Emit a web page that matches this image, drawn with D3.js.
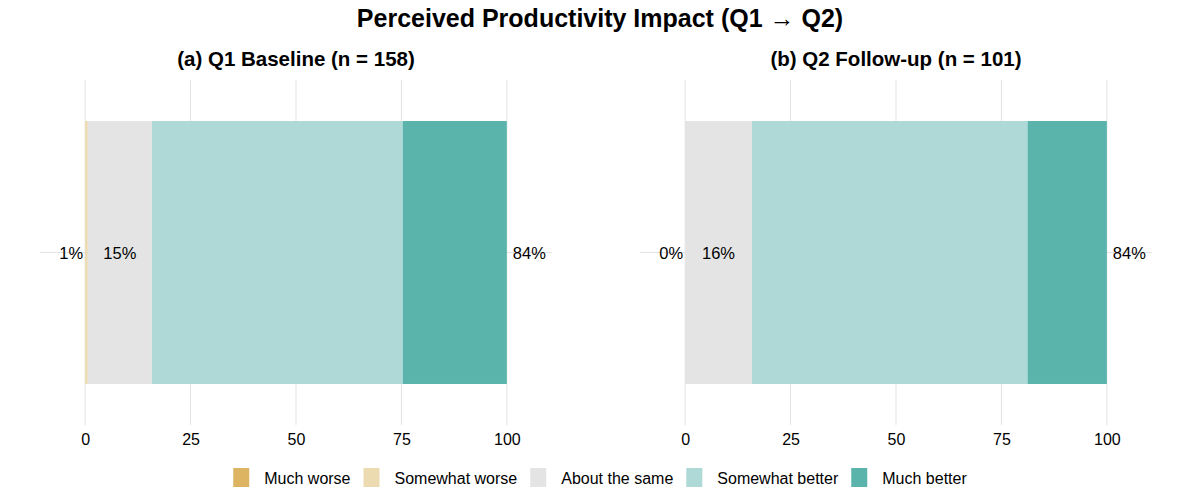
<!DOCTYPE html>
<html>
<head>
<meta charset="utf-8">
<script src="https://cdn.jsdelivr.net/npm/d3@7"></script>
<style>
  body { margin: 0; background: #fff; }
  text { font-family: "Liberation Sans", Arial, Helvetica, sans-serif; fill: #000; }
</style>
</head>
<body>
<div id="chart"></div>
<script>
// response levels, in stacking order
const levels = ['Much worse', 'Somewhat worse', 'About the same', 'Somewhat better', 'Much better'];
const colors = ['#dcb462', '#ecdbb0', '#e4e4e4', '#aed9d6', '#5ab4ac'];

const panels = ['(a) Q1 Baseline (n = 158)', '(b) Q2 Follow-up (n = 101)'];
// percent of respondents per level
const q1Pct = [0, 0.63, 15.19, 59.49, 24.68];
const q2Pct = [0, 0, 15.84, 65.35, 18.81];
const lowLabels = ['1%', '0%'];
const midLabels = ['15%', '16%'];
const highLabels = ['84%', '84%'];
const xTicks = [0, 25, 50, 75, 100];

const width = 1200;
const height = 500;

const svg = d3.select('#chart')
  .append('svg')
  .attr('width', width)
  .attr('height', height);

svg.append('text')
  .attr('x', width / 2)
  .attr('y', 27)
  .attr('text-anchor', 'middle')
  .style('font-size', '25px')
  .style('font-weight', 'bold')
  .text('Perceived Productivity Impact (Q1 \u2192 Q2)');

const panelLeft = [40, 640];
const panelWidth = 512;
const panelTop = 80;
const panelBottom = 425;
const series = [q1Pct, q2Pct];

panels.forEach((title, p) => {
  const g = svg.append('g');
  const x = d3.scaleLinear()
    .domain([-10.7, 110.7])
    .range([panelLeft[p], panelLeft[p] + panelWidth]);
  const y = d3.scaleBand()
    .domain(['all'])
    .range([panelTop, panelBottom])
    .paddingOuter(0.156)
    .paddingInner(0);

  g.append('text')
    .attr('x', panelLeft[p] + panelWidth / 2)
    .attr('y', 66)
    .attr('text-anchor', 'middle')
    .style('font-size', '20.5px')
    .style('font-weight', 'bold')
    .text(title);

  // gridlines
  g.selectAll('.vgrid')
    .data(xTicks)
    .enter()
    .append('line')
    .attr('x1', d => x(d))
    .attr('x2', d => x(d))
    .attr('y1', panelTop)
    .attr('y2', panelBottom)
    .attr('stroke', '#e3e3e3')
    .attr('stroke-width', 1);

  const yMid = y('all') + y.bandwidth() / 2;
  g.append('line')
    .attr('x1', x(-10.7))
    .attr('x2', x(110.7))
    .attr('y1', yMid)
    .attr('y2', yMid)
    .attr('stroke', '#e3e3e3')
    .attr('stroke-width', 1);

  // stacked segments
  let acc = 0;
  const segs = series[p].map((v, i) => {
    const s = { level: levels[i], x0: acc, x1: acc + v, color: colors[i] };
    acc += v;
    return s;
  });

  g.selectAll('.seg')
    .data(segs.filter(d => d.x1 > d.x0))
    .enter()
    .append('rect')
    .attr('class', 'seg')
    .attr('x', d => x(d.x0))
    .attr('width', d => x(d.x1) - x(d.x0))
    .attr('y', y('all'))
    .attr('height', y.bandwidth())
    .attr('fill', d => d.color);

  const neutral = segs[2];
  g.append('text')
    .attr('x', x(0) - 2)
    .attr('y', yMid + 6)
    .attr('text-anchor', 'end')
    .style('font-size', '16.5px')
    .text(lowLabels[p]);
  g.append('text')
    .attr('x', x((neutral.x0 + neutral.x1) / 2))
    .attr('y', yMid + 6)
    .attr('text-anchor', 'middle')
    .style('font-size', '16.5px')
    .text(midLabels[p]);
  g.append('text')
    .attr('x', x(100) + 6)
    .attr('y', yMid + 6)
    .attr('text-anchor', 'start')
    .style('font-size', '16.5px')
    .text(highLabels[p]);

  const xAxis = d3.axisBottom(x)
    .tickValues(xTicks)
    .tickSize(0)
    .tickPadding(9);
  const ax = g.append('g')
    .attr('transform', `translate(0, ${panelBottom})`)
    .call(xAxis);
  ax.select('.domain').remove();
  ax.selectAll('text')
    .style('font-size', '16px')
    .attr('fill', '#000');
});

// legend
const legend = svg.append('g');
let lx = 0;
levels.forEach((lv, i) => {
  const it = legend.append('g');
  it.append('rect')
    .attr('x', 0)
    .attr('y', 468)
    .attr('width', 16)
    .attr('height', 19)
    .attr('fill', colors[i]);
  const t = it.append('text')
    .attr('x', 31)
    .attr('y', 484)
    .style('font-size', '16px')
    .text(lv);
  const w = 31 + t.node().getComputedTextLength();
  it.attr('transform', `translate(${lx}, 0)`);
  lx += w + 13;
});
const totalW = lx - 13;
legend.attr('transform', `translate(${(width - totalW) / 2}, 0)`);
</script>
</body>
</html>
